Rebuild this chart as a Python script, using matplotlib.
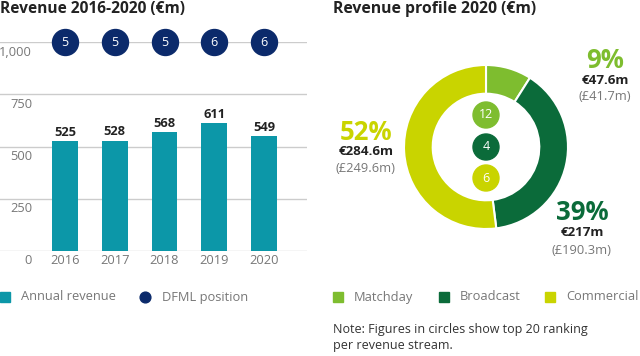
import matplotlib
matplotlib.use("Agg")
import matplotlib.pyplot as plt
from matplotlib.patches import Rectangle, Circle

plt.rcParams['font.family'] = ['Open Sans', 'DejaVu Sans']

# ---- data ----
years = ["2016", "2017", "2018", "2019", "2020"]
revenue = [525, 528, 568, 611, 549]
dfml_position = [5, 5, 5, 6, 6]
y_ticks = [0, 250, 500, 750, 1000]
y_tick_labels = ["0", "250", "500", "750", "1,000"]

streams = ["Matchday", "Broadcast", "Commercial"]
shares = [9, 39, 52]
euro_vals = ["€47.6m", "€217m", "€284.6m"]
gbp_vals = ["(£41.7m)", "(£190.3m)", "(£249.6m)"]
rankings = [12, 4, 6]

TEAL = "#0c97a8"
NAVY = "#0b2a6b"
STREAM_COLORS = ["#7ebd2f", "#0b6b3a", "#c9d400"]
GREY = "#777777"
DARK = "#222222"

W, H = 640, 356
fig = plt.figure(figsize=(W / 100, H / 100), dpi=100)


def fx(x):
    return x / W


def fy(y):
    return 1 - y / H


# ---- left bar chart ----
ax = fig.add_axes([fx(0), fy(251), fx(307), (251 - 42) / H])
x = list(range(len(years)))
ax.bar(x, revenue, width=0.52, color=TEAL, zorder=2)
ax.set_ylim(0, 1000)
ax.set_xlim(-65 / 49.75, (307 - 65) / 49.75)
for t in y_ticks:
    ax.axhline(t, color="#cccccc", lw=1, zorder=1)
for sp in ax.spines.values():
    sp.set_visible(False)
ax.set_xticks([])
ax.set_yticks([])

off = 10 / 209 * 1000
for t, lab in zip(y_ticks, y_tick_labels):
    ax.text(-33 / 49.75, t - off, lab, ha="right", va="center",
            fontsize=9.3, color=GREY, clip_on=False)
for xi, v, yr in zip(x, revenue, years):
    ax.text(xi, v + 12, str(v), ha="center", va="bottom", fontsize=9.3,
            fontweight="bold", color=DARK)
    ax.text(xi, -off, yr, ha="center", va="center", fontsize=9.3,
            color=GREY, clip_on=False)

ax.scatter(x, [1000] * len(x), s=350, color=NAVY, zorder=3, clip_on=False)
for xi, p in zip(x, dfml_position):
    ax.text(xi, 1000, str(p), ha="center", va="center", fontsize=9,
            color="white", zorder=4)

fig.text(fx(0), fy(9), "Revenue 2016-2020 (€m)", ha="left", va="center",
         fontsize=11.2, fontweight="bold", color=DARK)

# left legend
fig.patches.append(Rectangle((fx(0), fy(302)), fx(10), 10 / H,
                             color=TEAL, transform=fig.transFigure))
fig.text(fx(21), fy(297), "Annual revenue", ha="left", va="center",
         fontsize=9.3, color=GREY)
ax.scatter([(145 - 65) / 49.75], [1000 * (251 - 297) / 209], s=60,
           color=NAVY, clip_on=False, zorder=3)
fig.text(fx(162), fy(297), "DFML position", ha="left", va="center",
         fontsize=9.3, color=GREY)

# ---- right donut ----
cx, cy, r = 486, 147, 82
axp = fig.add_axes([fx(cx - r), fy(cy + r), 2 * r / W, 2 * r / H])
axp.pie(shares, colors=STREAM_COLORS, startangle=90, counterclock=False,
        radius=1, wedgeprops=dict(width=0.35, edgecolor="white", linewidth=1.5))
axp.set_xlim(-1, 1)
axp.set_ylim(-1, 1)
axp.set_aspect("equal")
axp.axis("off")

circ_y = [115, 147, 178]
for yy, rk, col in zip(circ_y, rankings, STREAM_COLORS):
    cyd = (cy - yy) / r
    axp.add_patch(Circle((0, cyd), 13 / r, color=col, zorder=3))
    axp.text(0, cyd, str(rk), ha="center", va="center", fontsize=9,
             color="white", zorder=4)

label_pos = [(605, 60), (582, 213), (366, 132)]
for (lx, ly), s, e, g, col in zip(label_pos, shares, euro_vals, gbp_vals,
                                   STREAM_COLORS):
    fig.text(fx(lx), fy(ly), f"{s}%", ha="center", va="center",
             fontsize=18.5, fontweight="bold", color=col)
    fig.text(fx(lx), fy(ly + 20), e, ha="center", va="center",
             fontsize=9.6, fontweight="bold", color=DARK)
    fig.text(fx(lx), fy(ly + 37), g, ha="center", va="center",
             fontsize=9.3, color=GREY)

fig.text(fx(333), fy(9), "Revenue profile 2020 (€m)", ha="left",
         va="center", fontsize=11.3, fontweight="bold", color=DARK)

leg_x = [(333, 354), (439, 460), (545, 566)]
for (sx, tx), name, col in zip(leg_x, streams, STREAM_COLORS):
    fig.patches.append(Rectangle((fx(sx), fy(302)), fx(10), 10 / H,
                                 color=col, transform=fig.transFigure))
    fig.text(fx(tx), fy(297), name, ha="left", va="center",
             fontsize=9.3, color=GREY)

fig.text(fx(333), fy(329), "Note: Figures in circles show top 20 ranking",
         ha="left", va="center", fontsize=9.0, color="#333333")
fig.text(fx(333), fy(346), "per revenue stream.", ha="left", va="center",
         fontsize=9.0, color="#333333")

fig.savefig("out.png", dpi=100)
